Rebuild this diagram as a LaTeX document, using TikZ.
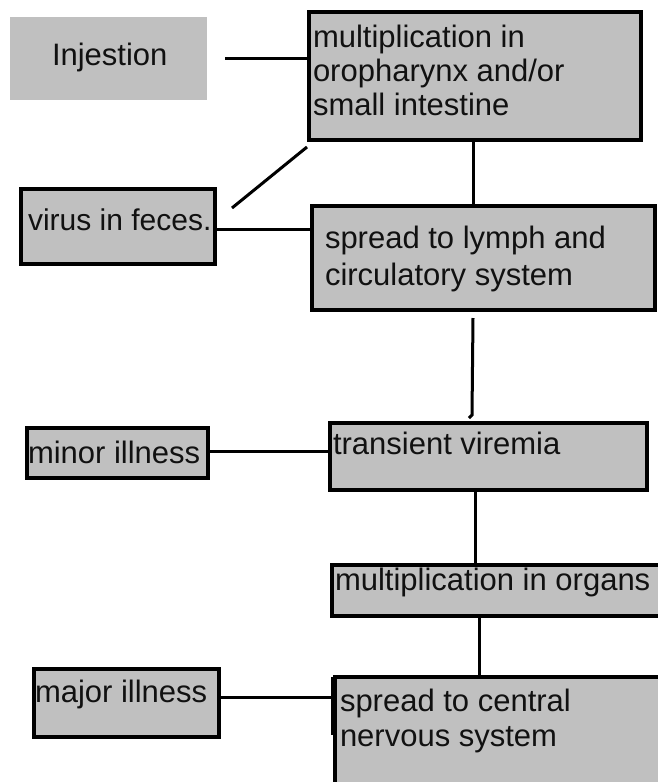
\documentclass[tikz,border=0pt]{standalone}
\usepackage{fontspec}
\setmainfont{Liberation Sans}
\definecolor{boxgray}{HTML}{C0C0C0}
\definecolor{ink}{HTML}{111111}
\begin{document}
\begin{tikzpicture}[x=1pt,y=-1pt,
  box/.style={draw=black, line width=4pt, fill=boxgray, rectangle, inner sep=0pt, outer sep=0pt, anchor=north west},
  plainbox/.style={fill=boxgray, rectangle, inner sep=0pt, outer sep=0pt, anchor=north west},
  lbl/.style={anchor=base west, inner sep=0pt, outer sep=0pt, text=ink, font=\fontsize{31}{34}\selectfont},
  conn/.style={draw=black, line width=3pt}]
\useasboundingbox (0,0) rectangle (658,782);
\fill[white] (0,0) rectangle (658,782);
\begin{scope}
\clip (0,0) rectangle (658,782);
% boxes
\node[plainbox, minimum width=197pt, minimum height=83pt] (inj) at (10,17) {};
\node[box, minimum width=332pt, minimum height=128pt] (b2) at (309,12) {};
\node[box, minimum width=194pt, minimum height=75pt] (feces) at (21,189) {};
\node[box, minimum width=343pt, minimum height=104pt] (b4) at (312,206) {};
\node[box, minimum width=181pt, minimum height=50pt] (minor) at (27,428) {};
\node[box, minimum width=317pt, minimum height=67pt] (tv) at (330,423) {};
\node[box, minimum width=368pt, minimum height=51pt] (org) at (332,565) {};
\node[box, minimum width=185pt, minimum height=68pt] (major) at (34,669) {};
\node[box, minimum width=368pt, minimum height=160pt] (cns) at (335,677) {};
% texts
\node[lbl] (tinj) at (52,65) {Injestion};
\node[lbl] (tb2a) at (313,47) {multiplication in};
\node[lbl] (tb2b) at (313,81) {oropharynx and/or};
\node[lbl] (tb2c) at (313,115) {small intestine};
\node[lbl, font=\fontsize{30}{34}\selectfont] (tfec) at (28,230) {virus in feces.};
\node[lbl] (tb4a) at (325,248) {spread to lymph and};
\node[lbl] (tb4b) at (325,285) {circulatory system};
\node[lbl] (tmin) at (28,463) {minor illness};
\node[lbl] (ttv) at (333,454) {transient viremia};
\node[lbl] (torg) at (335,590) {multiplication in organs};
\node[lbl] (tmaj) at (35,702) {major illness};
\node[lbl] (tcnsa) at (340,711) {spread to central};
\node[lbl] (tcnsb) at (340,746) {nervous system};
% connectors
\coordinate (injend) at (225,58);
\draw[conn] (injend) -- (injend -| b2.west);
\coordinate (fdot) at (232,208);
\coordinate (dstart) at (307,147);
\draw[conn] (dstart) -- (fdot);
\draw[conn] (feces.east |- 0,229) -- (b4.west |- 0,229);
\draw[conn] (b2.south -| 473,0) -- (b4.north -| 473,0);
\coordinate (v2top) at (473,318);
\coordinate (v2bot) at (472,415);
\coordinate (v2hook) at (469,418);
\draw[conn] (v2top) -- (v2bot) -- (v2hook);
\draw[conn] (minor.east |- 0,451) -- (tv.west |- 0,451);
\draw[conn] (tv.south -| 475,0) -- (org.north -| 475,0);
\draw[conn] (org.south -| 479,0) -- (cns.north -| 479,0);
\draw[conn] (major.east |- 0,697) -- (cns.west |- 0,697);
\draw[line width=3pt] (cns.north west) ++(-3,0) -- ++(0,58);
\end{scope}
\end{tikzpicture}
\end{document}
